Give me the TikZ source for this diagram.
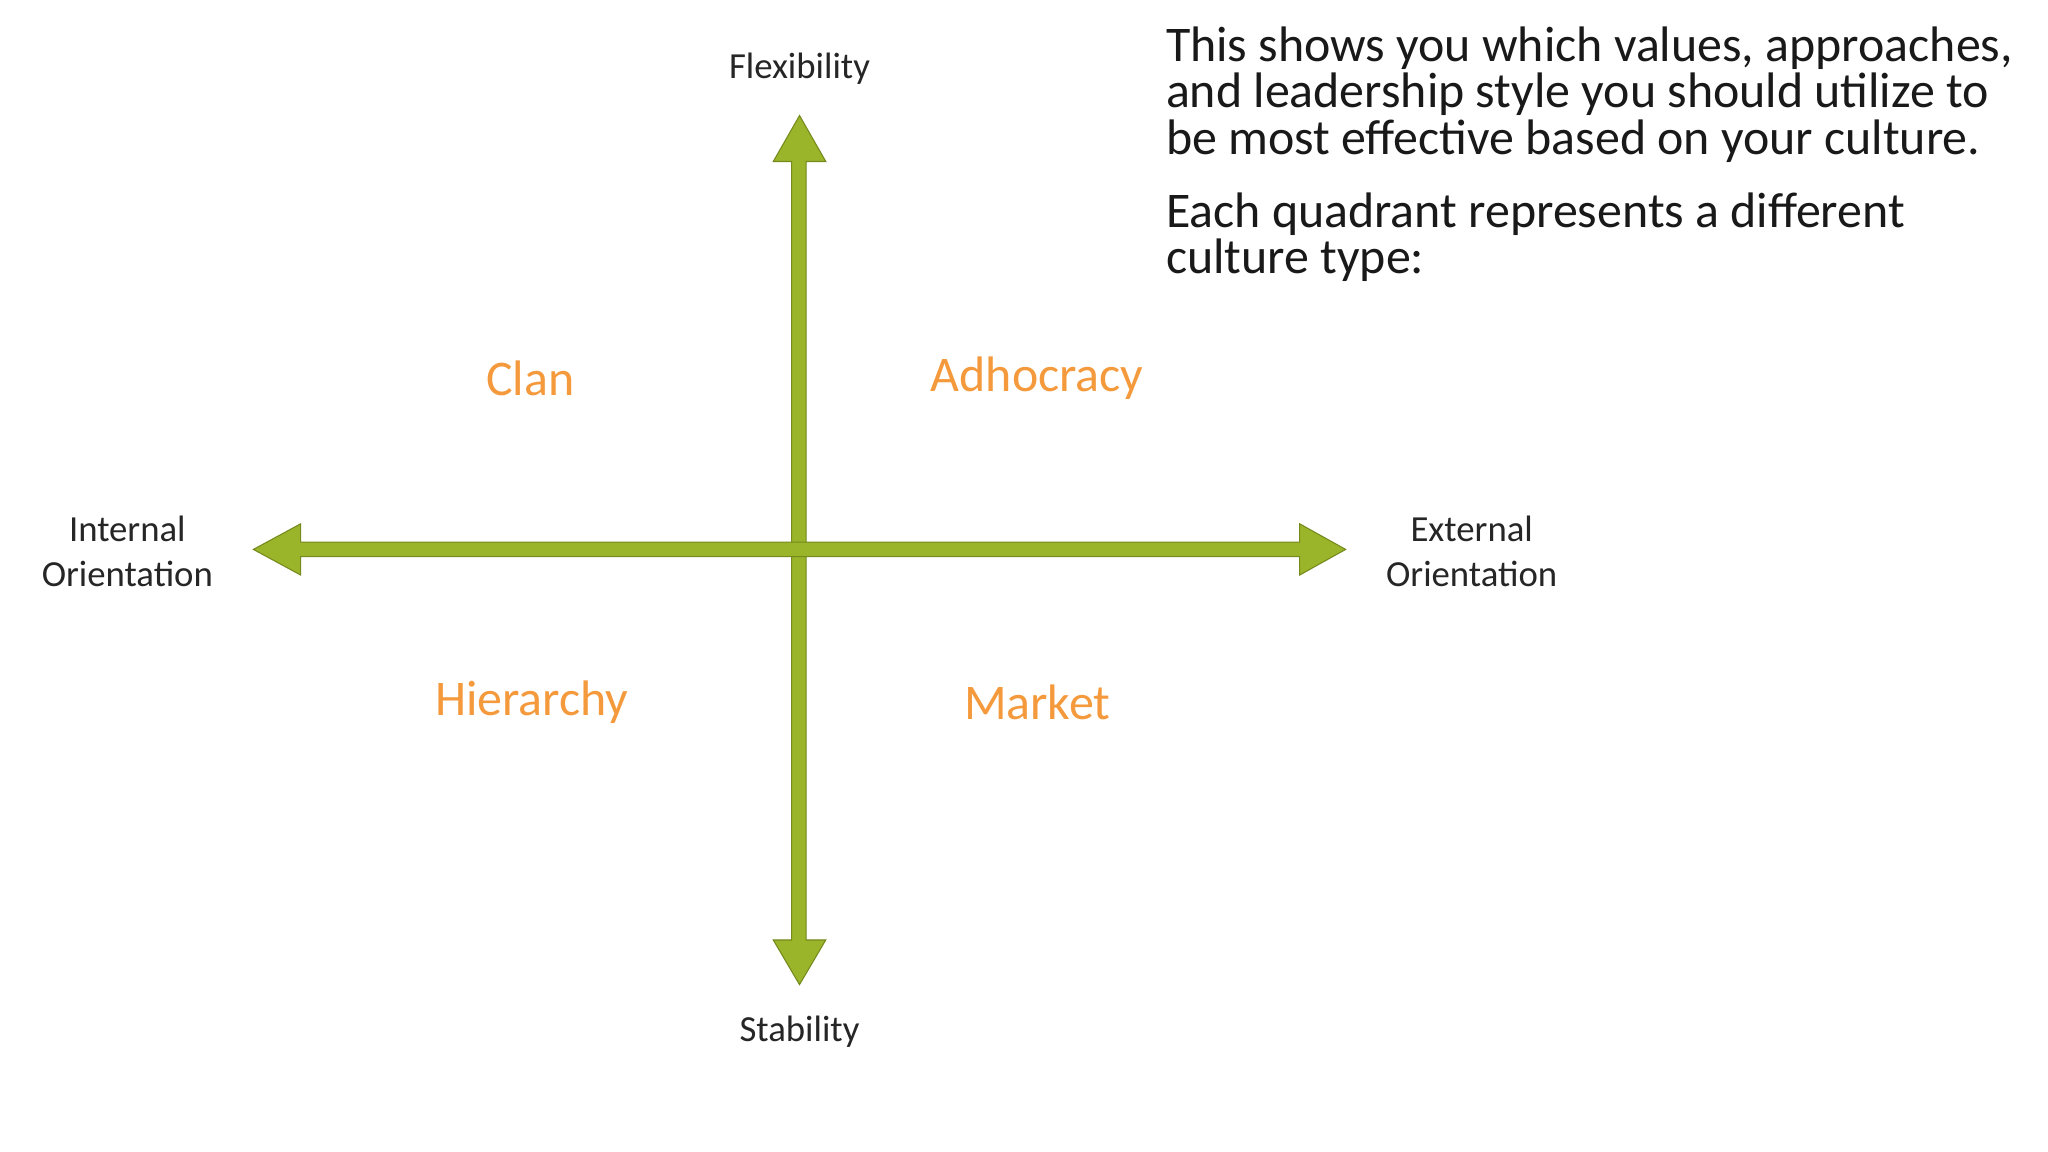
\documentclass[tikz,border=0pt]{standalone}
\usepackage{fontspec}
\setmainfont{Carlito}
\definecolor{arr}{HTML}{9BB52A}
\definecolor{arrline}{HTML}{748A1C}
\definecolor{quad}{HTML}{F59A3C}
\begin{document}
\begin{tikzpicture}[x=1pt,y=-1pt,
  axlbl/.style={font=\fontsize{28}{35}\selectfont,align=center,text=black!85},
  qlbl/.style={font=\fontsize{38}{40}\selectfont,text=quad},
  arrshape/.style={fill=arr,draw=arrline,line width=0.8pt}]
\useasboundingbox (0,0) rectangle (1560,877.5);
\fill[white] (0,0) rectangle (1560,877.5);
% vertical double arrow
\path[arrshape] (609,88) -- (629,123) -- (614,123) -- (614,716) -- (629,716) -- (609,750) -- (589,716) -- (603,716) -- (603,123) -- (589,123) -- cycle;
% horizontal double arrow
\path[arrshape] (193,418.5) -- (229,399) -- (229,413) -- (990,413) -- (990,399) -- (1025,418.5) -- (990,438) -- (990,424) -- (229,424) -- (229,438) -- cycle;
\fill[arr] (603.4,413.4) rectangle (613.6,423.6);
\node[axlbl] (flex) at (609,52) {Flexibility};
\node[axlbl] (stab) at (609,786) {Stability};
\node[axlbl] (int) at (97,420) {Internal\\Orientation};
\node[axlbl] (ext) at (1121,420) {External\\Orientation};
\node[qlbl] (clan) at (404,288) {Clan};
\node[qlbl] (adho) at (790,288) {Adhocracy};
\node[qlbl] (hier) at (405,535) {Hierarchy};
\node[qlbl] (mark) at (790,535) {Market};
\node[anchor=north west,inner sep=0pt,align=left,text=black!90,font=\fontsize{38}{35.5}\selectfont] (txt) at (888,20)
 {This shows you which values, approaches,\\and leadership style you should utilize to\\be most effective based on your culture.\\[20pt]Each quadrant represents a different\\culture type:};
\end{tikzpicture}
\end{document}
